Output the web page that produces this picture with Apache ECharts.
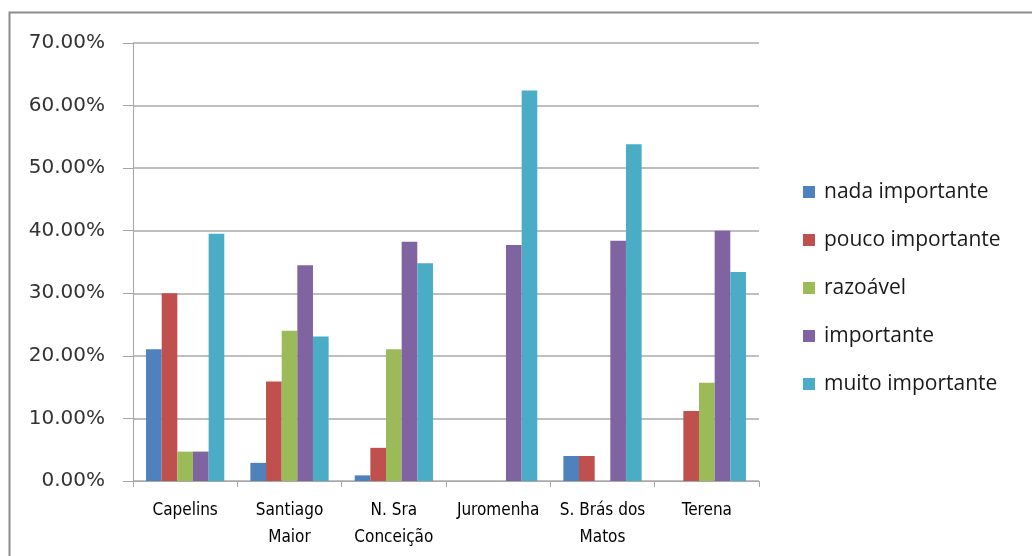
<!DOCTYPE html>
<html>
<head>
<meta charset="utf-8">
<script src="https://cdn.jsdelivr.net/npm/echarts@6/dist/echarts.min.js"></script>
<style>
html,body{margin:0;padding:0;background:#fff;}
#chart{width:1032px;height:556px;}
</style>
</head>
<body>
<div id="chart"></div>
<script>
const categories = ['Capelins', 'Santiago\nMaior', 'N. Sra\nConceição', 'Juromenha', 'S. Brás dos\nMatos', 'Terena'];
const seriesNames = ['nada importante', 'pouco importante', 'razoável', 'importante', 'muito importante'];
const nadaImportante   = [21.05, 2.9, 0.9, 0, 4.0, 0];
const poucoImportante  = [30.0, 15.9, 5.3, 0, 4.0, 11.2];
const razoavel         = [4.7, 24.0, 21.05, 0, 0, 15.7];
const importante       = [4.7, 34.5, 38.25, 37.7, 38.4, 40.0];
const muitoImportante  = [39.5, 23.1, 34.8, 62.4, 53.8, 33.4];
const yTicks = [0, 10, 20, 30, 40, 50, 60, 70];

const colors = ['#4F81BD', '#C0504D', '#9BBB59', '#8064A2', '#4BACC6'];
const allData = [nadaImportante, poucoImportante, razoavel, importante, muitoImportante];

const chart = echarts.init(document.getElementById('chart'), null, {renderer: 'canvas'});
chart.setOption({
  animation: false,
  backgroundColor: '#ffffff',
  color: colors,
  graphic: [{
    type: 'polyline',
    shape: {points: [[9.5, 556], [9.5, 12.5], [1032, 12.5]]},
    style: {stroke: '#8c8c8c', lineWidth: 2, fill: null},
    silent: true
  }],
  grid: {left: 133, right: 273, top: 43, bottom: 75, containLabel: false},
  legend: {
    orient: 'vertical',
    left: 803,
    top: 178,
    padding: 0,
    itemWidth: 12,
    itemHeight: 12,
    itemGap: 20,
    icon: 'rect',
    textStyle: {fontFamily: 'Open Sans', fontSize: 21, lineHeight: 28, color: '#1a1a1a', padding: [0, 0, 0, 4]},
    data: seriesNames
  },
  xAxis: {
    type: 'category',
    data: categories,
    boundaryGap: true,
    axisLine: {lineStyle: {color: '#a6a6a6', width: 1}},
    axisTick: {show: true, alignWithLabel: false, length: 6, lineStyle: {color: '#a6a6a6'}},
    axisLabel: {
      interval: 0,
      margin: 16,
      fontFamily: 'Liberation Sans Narrow, DejaVu Sans Condensed, Liberation Sans',
      fontSize: 17,
      lineHeight: 27,
      color: '#000'
    }
  },
  yAxis: {
    type: 'value',
    min: 0,
    max: 70,
    interval: 10,
    axisLine: {show: true, lineStyle: {color: '#a6a6a6', width: 1}},
    axisTick: {show: true, length: 10, lineStyle: {color: '#a6a6a6'}},
    splitLine: {show: true, lineStyle: {color: '#bfbfbf', width: 2}},
    axisLabel: {
      margin: 28,
      fontFamily: 'DejaVu Sans',
      fontSize: 20,
      color: '#333',
      formatter: function (v) { return yTicks.indexOf(v) >= 0 ? v.toFixed(2) + '%' : ''; }
    }
  },
  series: seriesNames.map(function (name, i) {
    return {
      name: name,
      type: 'bar',
      data: allData[i],
      barGap: '0%',
      barCategoryGap: '25%',
      itemStyle: {color: colors[i]}
    };
  })
});
</script>
</body>
</html>
